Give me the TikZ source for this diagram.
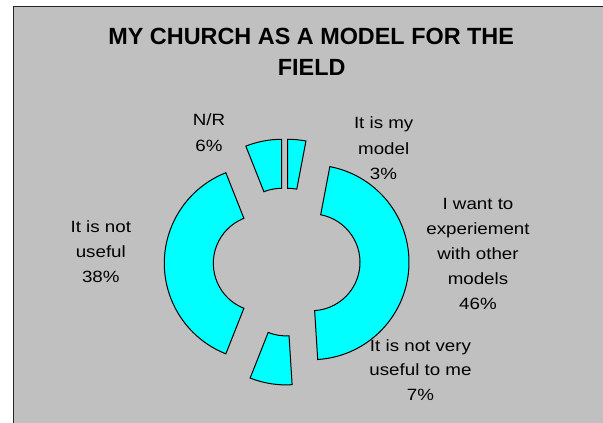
\documentclass[tikz,border=0pt]{standalone}
\usepackage{fontspec}
\setmainfont{Liberation Sans}
\newfontfamily\lblfont[FakeStretch=1.15]{Liberation Sans}
\usetikzlibrary{calc}
\definecolor{chartbg}{RGB}{192,192,192}
\definecolor{segcyan}{RGB}{0,255,255}
\tikzset{
  seg/.style={draw=black, line width=1pt, fill=segcyan, line join=miter},
  lbl/.style={font=\lblfont\fontsize{16.3}{25}\selectfont, anchor=base, inner sep=0pt, text=black},
  ttl/.style={font=\bfseries\fontsize{23.4}{31}\selectfont, anchor=base, inner sep=0pt, text=black},
  frameline/.style={draw=black!85, line width=1pt},
}
% #1 centre x, #2 centre y, #3 start angle, #4 end angle
\newcommand{\ringseg}[4]{%
  \draw[seg] ($(#1,#2)+(#3:97.4pt)$) arc[start angle=#3, end angle=#4, radius=97.4pt]
    -- ($(#1,#2)+(#4:48.4pt)$) arc[start angle=#4, end angle=#3, radius=48.4pt] -- cycle;}
\begin{document}
\begin{tikzpicture}[x=1pt,y=1pt]
\useasboundingbox (0,0) rectangle (603,423);
\fill[white] (0,0) rectangle (603,423);
\fill[chartbg] (13,0) rectangle (603,416.3);
\draw[frameline] (13,0) -- (13,416.3) -- (603,416.3);

% title
\node[ttl] (t1) at (311.2,378) {MY CHURCH AS A MODEL FOR THE};
\node[ttl] (t2) at (311.7,347) {FIELD};

% doughnut segments (exploded)
\ringseg{287.7}{186.3}{79.2}{90}     % It is my model 3%
\ringseg{311.6}{160.7}{-86.4}{79.2}  % experiment 46%
\ringseg{286}{135.5}{-111.6}{-86.4}  % not very useful 7%
\ringseg{261.7}{159.7}{111.6}{248.4} % not useful 38%
\ringseg{281.7}{186.3}{90}{111.6}    % N/R 6%

% labels
\node[lbl] (nr1) at (209,297) {N/R};
\node[lbl] (nr2) at (209,271.3) {6\%};

\node[lbl] (mm1) at (383.7,294) {It is my};
\node[lbl] (mm2) at (383.7,268) {model};
\node[lbl] (mm3) at (383.5,243) {3\%};

\node[lbl] (ex1) at (478,213) {I want to};
\node[lbl] (ex2) at (478,188) {experiement};
\node[lbl] (ex3) at (478,163) {with other};
\node[lbl] (ex4) at (478,138) {models};
\node[lbl] (ex5) at (478,113) {46\%};

\node[lbl] (nu1) at (100.8,190.3) {It is not};
\node[lbl] (nu2) at (100.8,165.7) {useful};
\node[lbl] (nu3) at (100.8,140.3) {38\%};

\node[lbl] (nv1) at (420.5,71.3) {It is not very};
\node[lbl] (nv2) at (420.5,47) {useful to me};
\node[lbl] (nv3) at (420.5,22) {7\%};
\end{tikzpicture}
\end{document}
